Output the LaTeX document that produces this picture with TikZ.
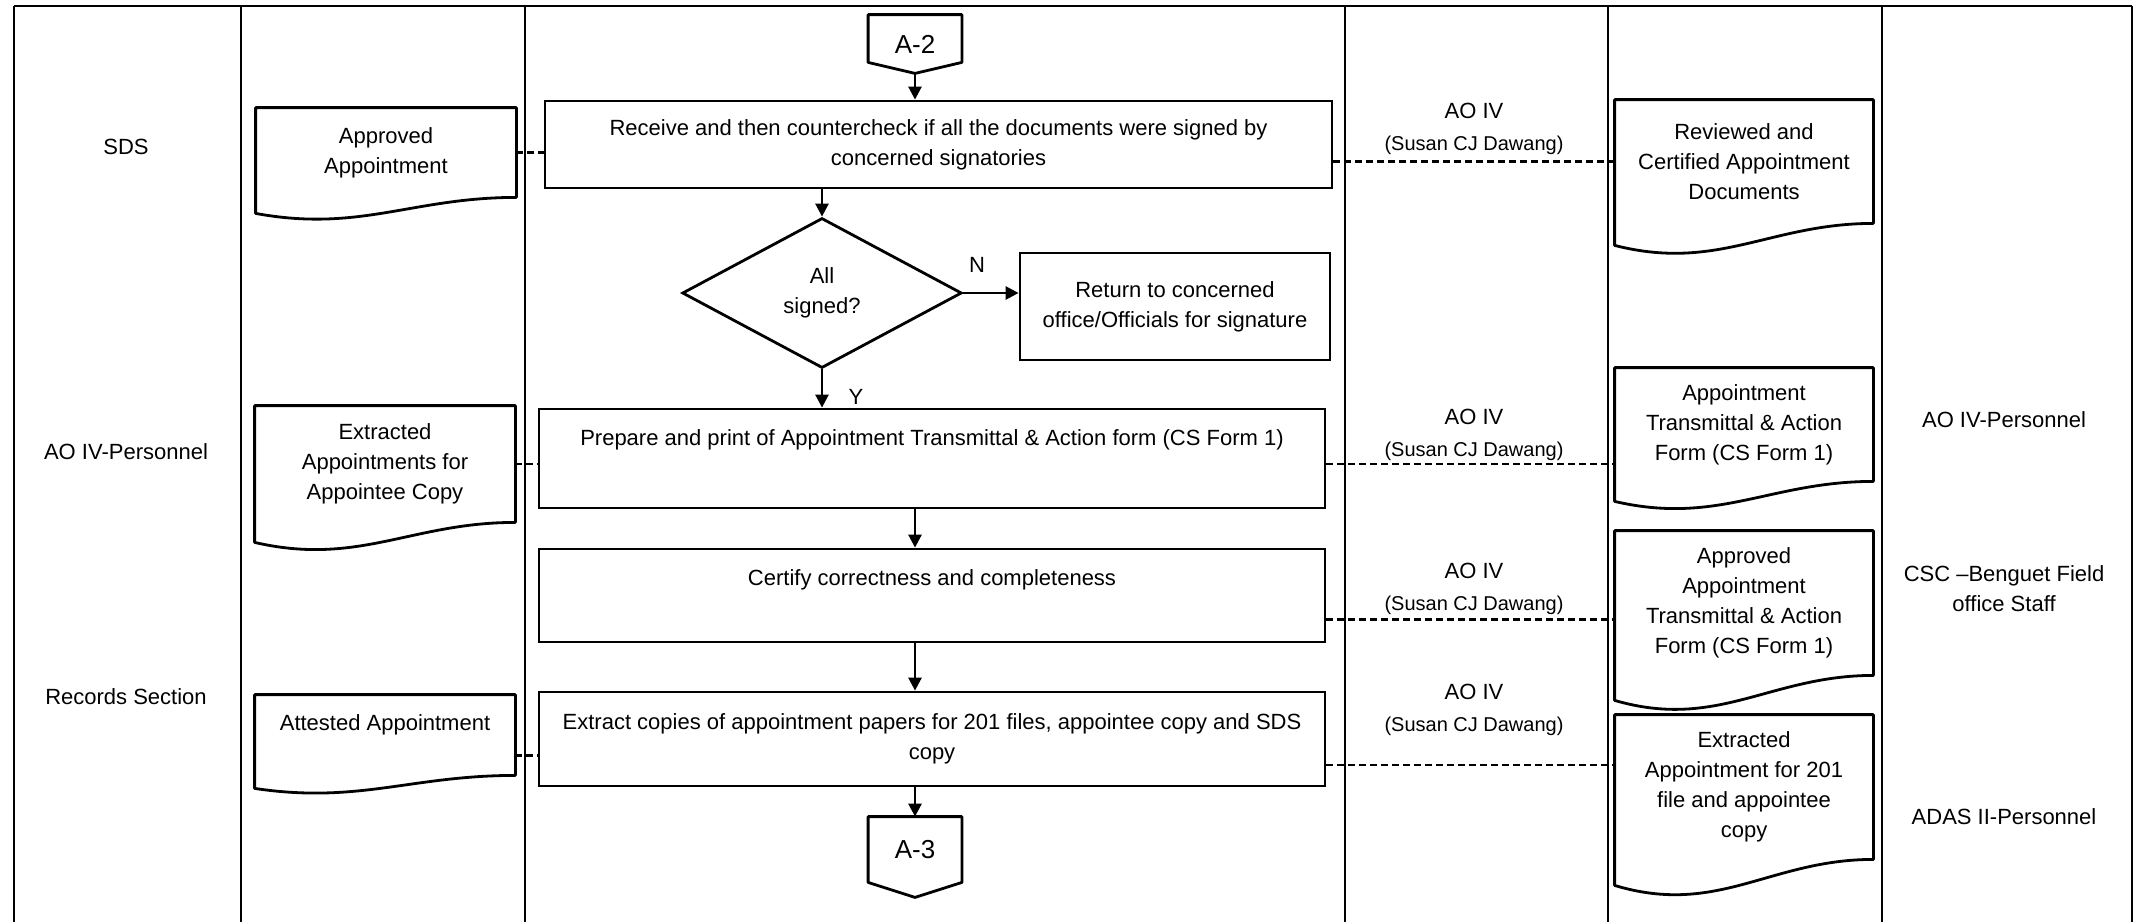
\documentclass[tikz,border=0pt]{standalone}
\usepackage{fontspec}
\setmainfont{Liberation Sans}
\usetikzlibrary{arrows.meta,shapes.geometric,calc}
\newcommand\drawdoc[2]{%
  \draw[docline] ($(#1.south west)+(0,#2)$) -- (#1.north west) -- (#1.north east) -- (#1.south east)
    .. controls ($(#1.south west)!0.6!(#1.south east)$) and ($(#1.south west)!0.4!(#1.south east)+(0,{2.2*#2})$)
    .. ($(#1.south west)+(0,#2)$) -- cycle;}
\begin{document}
\begin{tikzpicture}[x=0.5pt,y=-0.5pt,
  lane/.style={line width=1pt},
  proc/.style={draw, line width=1.4pt, inner sep=0pt, align=center, font=\fontsize{11}{15}\selectfont},
  docnode/.style={inner sep=0pt, align=center, font=\fontsize{11}{15}\selectfont},
  docline/.style={line width=1.4pt, line join=round},
  dec/.style={diamond, draw, line width=1.4pt, inner sep=0pt, align=center,
    font=\fontsize{11}{15}\selectfont, minimum width=139.75pt, minimum height=75pt},
  conn/.style={inner sep=0pt, font=\fontsize{13}{15}\selectfont},
  flow/.style={line width=1.3pt, -{Triangle[length=6.5pt,width=6.5pt]}},
  link/.style={line width=1.1pt, dash pattern=on 3.5pt off 2pt},
  lanelabel/.style={align=center, font=\fontsize{11}{15}\selectfont},
  who/.style={align=center, font=\fontsize{11}{16}\selectfont},
  yn/.style={font=\fontsize{11}{13}\selectfont},
]
\useasboundingbox (0,0) rectangle (2134,922);
\fill[white] (0,0) rectangle (2134,922);

% swimlanes
\draw[line width=1.1pt] (14,6) -- (2132,6);
\foreach \x in {14,241,525,1345,1608,1882,2132} \draw[lane] (\x,6) -- (\x,922);

% lane labels
\node[lanelabel] (l1) at (126,147) {SDS};
\node[lanelabel] (l2) at (126,452) {AO IV-Personnel};
\node[lanelabel] (l3) at (126,697) {Records Section};
\node[lanelabel] (r1) at (2004,420) {AO IV-Personnel};
\node[lanelabel] (r2) at (2004,589) {CSC –Benguet Field\\office Staff};
\node[lanelabel] (r3) at (2004,817) {ADAS II-Personnel};

% connectors
\node[conn, minimum width=46.5pt, minimum height=29pt] (a2) at (915,44) {A-2};
\draw[docline] (a2.north west) -- (a2.north east) -- ($(a2.south east)+(0,-11)$) -- (a2.south) -- ($(a2.south west)+(0,-11)$) -- cycle;
\node[conn, minimum width=46.5pt, minimum height=40pt, text depth=8pt] (a3) at (915,857) {A-3};
\draw[docline] (a3.north west) -- (a3.north east) -- ($(a3.south east)+(0,-15)$) -- (a3.south) -- ($(a3.south west)+(0,-15)$) -- cycle;

% process boxes
\node[proc, minimum width=393.5pt, minimum height=43.5pt] (b1) at (938.5,144.5)
  {Receive and then countercheck if all the documents were signed by\\concerned signatories};
\node[dec] (d1) at (822,293) {All\\signed?};
\node[proc, minimum width=155pt, minimum height=53.5pt] (ret) at (1175,306.5)
  {Return to concerned\\office/Officials for signature};
\node[proc, minimum width=393pt, minimum height=49.5pt, text height=8pt, text depth=21.5pt] (b3) at (932,458.5)
  {Prepare and print of Appointment Transmittal \& Action form (CS Form 1)};
\node[proc, minimum width=393pt, minimum height=46.5pt, text height=8pt, text depth=18.5pt] (b4) at (932,595.5)
  {Certify correctness and completeness};
\node[proc, minimum width=393pt, minimum height=47pt] (b5) at (932,739)
  {Extract copies of appointment papers for 201 files, appointee copy and SDS\\copy};

% documents
\node[docnode, minimum width=130pt, minimum height=44.5pt] (doc1) at (386,152.5) {Approved\\Appointment};
\drawdoc{doc1}{16}
\node[docnode, minimum width=130pt, minimum height=58pt] (doc2) at (385,464) {Extracted\\Appointments for\\Appointee Copy};
\drawdoc{doc2}{20}
\node[docnode, minimum width=130pt, minimum height=40pt, text height=8pt, text depth=13pt] (doc3) at (385,735) {Attested Appointment};
\drawdoc{doc3}{13}
\node[docnode, minimum width=129pt, minimum height=61.5pt] (R1) at (1744,161.5) {Reviewed and\\Certified Appointment\\Documents};
\drawdoc{R1}{22}
\node[docnode, minimum width=129pt, minimum height=56.5pt] (R2) at (1744,424.5) {Appointment\\Transmittal \& Action\\Form (CS Form 1)};
\drawdoc{R2}{20}
\node[docnode, minimum width=129pt, minimum height=72pt] (R3) at (1744,603) {Approved\\Appointment\\Transmittal \& Action\\Form (CS Form 1)};
\drawdoc{R3}{25}
\node[docnode, minimum width=129pt, minimum height=72pt] (R4) at (1744,787) {Extracted\\Appointment for 201\\file and appointee\\copy};
\drawdoc{R4}{26}

% responsible persons
\node[who] (w1) at (1474,129) {AO IV\\{\fontsize{10}{16}\selectfont(Susan CJ Dawang)}};
\node[who] (w2) at (1474,435) {AO IV\\{\fontsize{10}{16}\selectfont(Susan CJ Dawang)}};
\node[who] (w3) at (1474,589) {AO IV\\{\fontsize{10}{16}\selectfont(Susan CJ Dawang)}};
\node[who] (w4) at (1474,710) {AO IV\\{\fontsize{10}{16}\selectfont(Susan CJ Dawang)}};

% flow arrows
\draw[flow] (a2.south) -- (a2.south |- b1.north);
\draw[flow] (b1.south -| d1.north) -- (d1.north);
\draw[flow] (d1.east) -- (d1.east -| ret.west);
\draw[flow] (d1.south) -- (d1.south |- b3.north);
\draw[flow] (b3.south -| a2.south) -- (b4.north -| a2.south);
\draw[flow] (b4.south -| a2.south) -- (b5.north -| a2.south);
\draw[flow] (b5.south -| a3.north) -- (a3.north);
\node[yn] (lblN) at (977,265) {N};
\node[yn] (lblY) at (856,397) {Y};

% dashed links
\coordinate (k4) at ($(b4.south east)!0.25!(b4.north east)$);
\coordinate (k5) at ($(b5.south west)!0.33!(b5.north west)$);
\coordinate (k6) at ($(b5.south east)!0.234!(b5.north east)$);
\draw[link] (doc1.east) -- (doc1.east -| b1.west);
\draw[link] (R1.west -| b1.east) -- (R1.west);
\draw[link] (doc2.east) -- (doc2.east -| b3.west);
\draw[link] (doc2.east -| b3.east) -- (doc2.east -| R2.west);
\draw[link] (k4) -- (k4 -| R3.west);
\draw[link] (k5 -| doc3.east) -- (k5);
\draw[link] (k6) -- (k6 -| R4.west);
\end{tikzpicture}
\end{document}
